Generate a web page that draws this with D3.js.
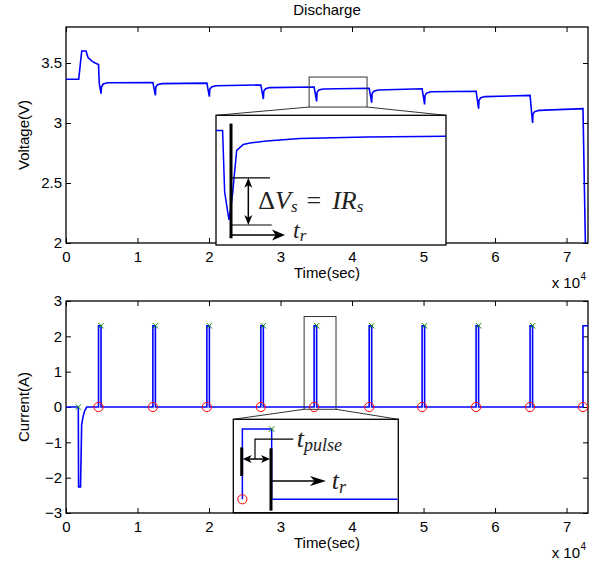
<!DOCTYPE html>
<html>
<head>
<meta charset="utf-8">
<script src="https://cdn.jsdelivr.net/npm/d3@7"></script>
<style>
body { margin: 0; background: #fff; }
svg text { font-family: "Liberation Sans", Arial, sans-serif; }
.math { font-family: "Liberation Serif", "Times New Roman", serif; fill: #222; }
</style>
</head>
<body>
<div id="chart"></div>
<script>
// tick labels (time axis shown in units of 10^4 s)
var timeTicks = [0, 1, 2, 3, 4, 5, 6, 7];
var voltTicks = [2, 2.5, 3, 3.5];
var currTicks = [-3, -2, -1, 0, 1, 2, 3];

// voltage trace, [time (s), volts]
var voltData = [
  [0, 3.365], [1780, 3.365], [2200, 3.6], [2800, 3.6], [3080, 3.545], [3640, 3.515],
  [4060, 3.5], [4550, 3.488], [4650, 3.33], [4900, 3.245], [4960, 3.30], [5200, 3.325],
  [5800, 3.335], [12150, 3.338],
  [12500, 3.23], [12560, 3.30], [12800, 3.32], [13400, 3.328], [19700, 3.332],
  [20050, 3.22], [20110, 3.28], [20350, 3.30], [20950, 3.31], [27250, 3.317],
  [27600, 3.20], [27660, 3.265], [27900, 3.285], [28500, 3.295], [34700, 3.30],
  [35050, 3.18], [35110, 3.255], [35350, 3.275], [35950, 3.283], [42400, 3.29],
  [42750, 3.17], [42810, 3.245], [43050, 3.265], [43650, 3.275], [49800, 3.285],
  [50150, 3.155], [50210, 3.23], [50450, 3.25], [51050, 3.26], [57350, 3.265],
  [57700, 3.12], [57760, 3.19], [58000, 3.21], [58600, 3.22], [64900, 3.23],
  [65250, 3.0], [65310, 3.075], [65550, 3.095], [66150, 3.105], [72300, 3.12],
  [72650, 1.95]
];

// current pulses (s) and pulse height (A)
var pulseStart = [4550, 12150, 19700, 27250, 34700, 42400, 49800, 57350, 64900, 72300];
var pulseEnd   = [4900, 12500, 20050, 27600, 35050, 42750, 50150, 57700, 65250, 73400];
var pulseAmp = 2.3;
// charging stretch at the start, [time (s), amps]
var chargeData = [
  [0, 0], [1720, 0], [1760, -2.26], [2030, -2.26], [2190, -0.5], [2380, -0.28],
  [2590, -0.12], [2900, 0]
];

// zoomed voltage response to one pulse
var insetVolt = [
  [34000, 3.300], [34230, 3.300], [34300, 3.22], [34380, 3.20], [34450, 3.183],
  [34520, 3.20], [34590, 3.222], [34630, 3.239], [34720, 3.274], [34950, 3.2817],
  [35180, 3.2838], [35760, 3.2864], [36920, 3.2895], [39240, 3.2916], [42000, 3.2925]
];
// zoomed current pulse
var insetCurr = [[34120, 0], [34120, 2.3], [34830, 2.3], [34830, 0], [37880, 0]];

var width = 604, height = 567;

var svg = d3.select("#chart")
  .append("svg")
    .attr("width", width)
    .attr("height", height);

var x = d3.scaleLinear().domain([0, 73000]).range([66, 588]);
var yV = d3.scaleLinear().domain([2, 3.8]).range([243, 27]);
var yI = d3.scaleLinear().domain([-3, 3]).range([513, 301]);

var fmt = d3.format("");

function arrowHead(g, px, py, ang, len, wid) {
  // tip at px,py pointing along ang
  var pts = [[0, 0], [-len, -wid / 2], [-len * 0.72, 0], [-len, wid / 2]];
  var c = Math.cos(ang), s = Math.sin(ang);
  g.append("path")
    .attr("d", "M" + pts.map(function(p) {
      return [px + p[0] * c - p[1] * s, py + p[0] * s + p[1] * c].join(",");
    }).join("L") + "Z")
    .attr("fill", "#000");
}

function drawPanel(y, yTicks, ylabel, clipId) {
  var y0 = y.range()[1], y1 = y.range()[0];
  var g = svg.append("g");

  // axes with inward ticks like matlab
  g.append("g")
    .attr("transform", "translate(0," + y1 + ")")
    .call(d3.axisBottom(x).tickValues(timeTicks.map(function(d) { return d * 1e4; }))
      .tickSizeInner(-5).tickSizeOuter(0).tickPadding(8)
      .tickFormat(function(d) { return fmt(d / 1e4); }));
  g.append("g")
    .attr("transform", "translate(0," + y0 + ")")
    .call(d3.axisTop(x).tickValues(timeTicks.map(function(d) { return d * 1e4; }))
      .tickSizeInner(-5).tickSizeOuter(0).tickFormat(""));
  g.append("g")
    .attr("transform", "translate(" + x.range()[0] + ",0)")
    .call(d3.axisLeft(y).tickValues(yTicks).tickSizeInner(-5).tickSizeOuter(0)
      .tickPadding(4).tickFormat(fmt));
  g.append("g")
    .attr("transform", "translate(" + x.range()[1] + ",0)")
    .call(d3.axisRight(y).tickValues(yTicks).tickSizeInner(-5).tickSizeOuter(0).tickFormat(""));
  g.selectAll(".domain").remove();
  g.selectAll(".tick line").attr("stroke", "#000");
  g.selectAll(".tick text").style("font-size", "15px").attr("fill", "#000");

  g.append("rect")
    .attr("x", x.range()[0]).attr("y", y0)
    .attr("width", x.range()[1] - x.range()[0]).attr("height", y1 - y0)
    .attr("fill", "none").attr("stroke", "#000").attr("stroke-width", 1.3);

  svg.append("clipPath").attr("id", clipId)
    .append("rect")
      .attr("x", x.range()[0]).attr("y", y0)
      .attr("width", x.range()[1] - x.range()[0]).attr("height", y1 - y0);

  // labels
  svg.append("text")
    .attr("x", (x.range()[0] + x.range()[1]) / 2).attr("y", y1 + 35)
    .attr("text-anchor", "middle").style("font-size", "15px")
    .text("Time(sec)");
  svg.append("text")
    .attr("x", 580).attr("y", y1 + 45)
    .attr("text-anchor", "end").style("font-size", "15px")
    .text("x 10");
  svg.append("text")
    .attr("x", 580.5).attr("y", y1 + 37)
    .style("font-size", "10px")
    .text("4");
  svg.append("text")
    .attr("transform", "translate(29," + (y0 + y1) / 2 + ") rotate(-90)")
    .attr("text-anchor", "middle").style("font-size", "15px")
    .text(ylabel);
}

drawPanel(yV, voltTicks, "Voltage(V)", "clipV");
drawPanel(yI, currTicks, "Current(A)", "clipI");

svg.append("text")
  .attr("x", 327).attr("y", 15)
  .attr("text-anchor", "middle").style("font-size", "15px")
  .text("Discharge");

// voltage line
var lineV = d3.line().x(function(d) { return x(d[0]); }).y(function(d) { return yV(d[1]); });
svg.append("path")
  .datum(voltData)
  .attr("clip-path", "url(#clipV)")
  .attr("d", lineV)
  .attr("fill", "none").attr("stroke", "#0000ff").attr("stroke-width", 1.6);

// current line built from charge stretch + pulses
var currData = chargeData.slice();
pulseStart.forEach(function(s, i) {
  currData.push([s, 0], [s, pulseAmp], [pulseEnd[i], pulseAmp], [pulseEnd[i], 0]);
});
var lineI = d3.line().x(function(d) { return x(d[0]); }).y(function(d) { return yI(d[1]); });
svg.append("path")
  .datum(currData)
  .attr("clip-path", "url(#clipI)")
  .attr("d", lineI)
  .attr("fill", "none").attr("stroke", "#0000ff").attr("stroke-width", 1.6);

// markers: red o at pulse start, green x at pulse end
var greenMarks = [[chargeData[1][0], 0]];
pulseEnd.forEach(function(e) { if (e < x.domain()[1]) greenMarks.push([e, pulseAmp]); });

function drawCircles(g, data, sx, sy) {
  g.selectAll(null).data(data).enter().append("circle")
    .attr("cx", function(d) { return sx(d[0]); })
    .attr("cy", function(d) { return sy(d[1]); })
    .attr("r", 4.6)
    .attr("fill", "none").attr("stroke", "#ff0000").attr("stroke-width", 1);
}
function drawCrosses(g, data, sx, sy) {
  g.selectAll(null).data(data).enter().append("path")
    .attr("d", function(d) {
      var cx = sx(d[0]), cy = sy(d[1]), r = 2.8;
      return "M" + (cx - r) + "," + (cy - r) + "L" + (cx + r) + "," + (cy + r) +
        "M" + (cx - r) + "," + (cy + r) + "L" + (cx + r) + "," + (cy - r);
    })
    .attr("stroke", "#109010").attr("stroke-width", 1);
}
drawCircles(svg, pulseStart.map(function(s) { return [s, 0]; }), x, yI);
drawCrosses(svg, greenMarks, x, yI);

// ---- top inset (zoom on one pulse response) ----
var zoomV = {t0: 34000, t1: 42100, v0: 3.133, v1: 3.383};
var boxV = {x: 216, y: 115.3, w: 230, h: 129.7};
var xiV = d3.scaleLinear().domain([34000, 42000]).range([boxV.x, boxV.x + boxV.w]);
var yiV = d3.scaleLinear().domain([3.15, 3.32]).range([boxV.y + boxV.h, boxV.y]);

function zoomFrame(zb, box, sy) {
  var zx0 = x(zb.t0), zx1 = x(zb.t1), zy0 = sy(zb.v1), zy1 = sy(zb.v0);
  svg.append("rect")
    .attr("x", zx0).attr("y", zy0).attr("width", zx1 - zx0).attr("height", zy1 - zy0)
    .attr("fill", "none").attr("stroke", "#333").attr("stroke-width", 1);
  svg.append("path")
    .attr("d", "M" + zx0 + "," + zy1 + "L" + box.x + "," + box.y +
      "M" + zx1 + "," + zy1 + "L" + (box.x + box.w) + "," + box.y)
    .attr("stroke", "#333").attr("stroke-width", 1);
  svg.append("rect")
    .attr("x", box.x).attr("y", box.y).attr("width", box.w).attr("height", box.h)
    .attr("fill", "#fff").attr("stroke", "#000").attr("stroke-width", 1.3);
}
zoomFrame(zoomV, boxV, yV);

var gv = svg.append("g");
gv.append("path")
  .datum(insetVolt)
  .attr("d", d3.line().x(function(d) { return xiV(d[0]); }).y(function(d) { return yiV(d[1]); }))
  .attr("fill", "none").attr("stroke", "#0000ff").attr("stroke-width", 1.5);

// annotation: bar at pulse end, delta V arrow, t_r arrow
gv.append("line")
  .attr("x1", xiV(34522)).attr("x2", xiV(34522))
  .attr("y1", yiV(3.3091)).attr("y2", yiV(3.1588))
  .attr("stroke", "#000").attr("stroke-width", 3);
gv.append("line")
  .attr("x1", xiV(34522)).attr("x2", xiV(35878))
  .attr("y1", yiV(3.238)).attr("y2", yiV(3.238))
  .attr("stroke", "#000").attr("stroke-width", 1.2);
gv.append("line")
  .attr("x1", xiV(34522)).attr("x2", xiV(35937))
  .attr("y1", yiV(3.1762)).attr("y2", yiV(3.1762))
  .attr("stroke", "#000").attr("stroke-width", 1.2);
gv.append("line")
  .attr("x1", xiV(35124)).attr("x2", xiV(35124))
  .attr("y1", yiV(3.238) + 6).attr("y2", yiV(3.1762) - 6)
  .attr("stroke", "#000").attr("stroke-width", 1.5);
arrowHead(gv, xiV(35124), yiV(3.238), -Math.PI / 2, 10, 8);
arrowHead(gv, xiV(35124), yiV(3.1762), Math.PI / 2, 10, 8);
gv.append("line")
  .attr("x1", xiV(34522)).attr("x2", xiV(36400) - 8)
  .attr("y1", yiV(3.1631)).attr("y2", yiV(3.1631))
  .attr("stroke", "#000").attr("stroke-width", 1.5);
arrowHead(gv, xiV(36400), yiV(3.1631), 0, 13, 11);

var dv = gv.append("text").attr("class", "math")
  .attr("x", xiV(35471)).attr("y", yiV(3.1975))
  .style("font-size", "26px");
dv.append("tspan").text("\u0394");
dv.append("tspan").style("font-style", "italic").text("V");
dv.append("tspan").style("font-style", "italic").style("font-size", "17px").attr("dy", 3).text("s");
dv.append("tspan").attr("dy", -3).attr("dx", 9).text("=");
dv.append("tspan").attr("dx", 11).style("font-style", "italic").text("IR");
dv.append("tspan").style("font-style", "italic").style("font-size", "17px").attr("dy", 3).text("s");

var tr1 = gv.append("text").attr("class", "math")
  .attr("x", xiV(36678)).attr("y", yiV(3.1598))
  .style("font-size", "24px").style("font-style", "italic");
tr1.append("tspan").text("t");
tr1.append("tspan").style("font-size", "17px").attr("dy", 3).text("r");

// ---- bottom inset (zoom on one current pulse) ----
var zoomI = {t0: 33300, t1: 37760, v0: -0.065, v1: 2.56};
var boxI = {x: 233.3, y: 419.3, w: 165, h: 93.4};
var xiI = d3.scaleLinear().domain([33900, 37900]).range([boxI.x, boxI.x + boxI.w]);
var yiI = d3.scaleLinear().domain([-0.44, 2.62]).range([boxI.y + boxI.h, boxI.y]);
zoomFrame(zoomI, boxI, yI);

var gi = svg.append("g");
gi.append("path")
  .datum(insetCurr)
  .attr("d", d3.line().x(function(d) { return xiI(d[0]); }).y(function(d) { return yiI(d[1]); }))
  .attr("fill", "none").attr("stroke", "#0000ff").attr("stroke-width", 1.5);

gi.append("line")
  .attr("x1", xiI(34104)).attr("x2", xiI(34104))
  .attr("y1", yiI(1.70)).attr("y2", yiI(0.762))
  .attr("stroke", "#000").attr("stroke-width", 3);
gi.append("line")
  .attr("x1", xiI(34814)).attr("x2", xiI(34814))
  .attr("y1", yiI(1.668)).attr("y2", yiI(-0.373))
  .attr("stroke", "#000").attr("stroke-width", 3);
gi.append("line")
  .attr("x1", xiI(34104) + 6).attr("x2", xiI(34814) - 6)
  .attr("y1", yiI(1.318)).attr("y2", yiI(1.318))
  .attr("stroke", "#000").attr("stroke-width", 1.5);
arrowHead(gi, xiI(34104) + 1, yiI(1.318), Math.PI, 9, 8);
arrowHead(gi, xiI(34814) - 1, yiI(1.318), 0, 9, 8);
gi.append("path")
  .attr("d", "M" + xiI(34426) + "," + yiI(1.318) + "L" + xiI(34426) + "," + yiI(1.973) +
    "L" + xiI(35354) + "," + yiI(1.973))
  .attr("fill", "none").attr("stroke", "#000").attr("stroke-width", 1.2);
gi.append("line")
  .attr("x1", xiI(34814)).attr("x2", xiI(36147) - 8)
  .attr("y1", yiI(0.599)).attr("y2", yiI(0.599))
  .attr("stroke", "#000").attr("stroke-width", 1.5);
arrowHead(gi, xiI(36147), yiI(0.599), 0, 16, 10);

drawCircles(gi, [insetCurr[0]], xiI, yiI);
drawCrosses(gi, [insetCurr[2]], xiI, yiI);

var tp = gi.append("text").attr("class", "math")
  .attr("x", xiI(35437)).attr("y", yiI(1.72))
  .style("font-size", "26px").style("font-style", "italic");
tp.append("tspan").text("t");
tp.append("tspan").style("font-size", "18px").attr("dy", 4).text("pulse");

var tr2 = gi.append("text").attr("class", "math")
  .attr("x", xiI(36285)).attr("y", yiI(0.327))
  .style("font-size", "26px").style("font-style", "italic");
tr2.append("tspan").text("t");
tr2.append("tspan").style("font-size", "18px").attr("dy", 4).text("r");
</script>
</body>
</html>
